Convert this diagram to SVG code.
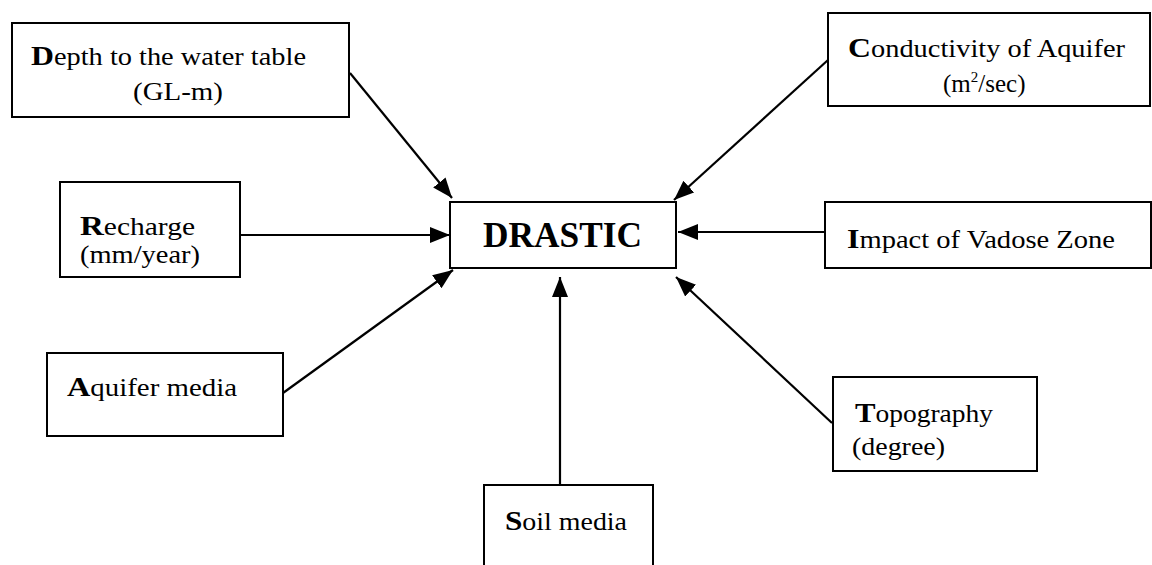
<svg xmlns="http://www.w3.org/2000/svg" width="1152" height="565" viewBox="0 0 1152 565">
<style>
.box{fill:#fff;stroke:#000;stroke-width:2}
.t{font-family:"Liberation Serif","Times New Roman",serif;font-size:25px;fill:#000}
.b{font-weight:bold;font-size:28px}
.big{font-family:"Liberation Serif","Times New Roman",serif;font-size:35px;font-weight:bold;fill:#000}
.con{stroke:#000;stroke-width:2.2;fill:none;marker-end:url(#ah)}
</style>
<defs>
<marker id="ah" markerUnits="userSpaceOnUse" markerWidth="22" markerHeight="18" refX="20" refY="8" orient="auto">
<path d="M0,0 L20,8 L0,16 z" fill="#000"/>
</marker>
</defs>
<rect width="1152" height="565" fill="#fff"/>
<g id="connectors">
<line class="con" x1="350" y1="73" x2="452" y2="198"/>
<line class="con" x1="240" y1="235" x2="450" y2="235"/>
<line class="con" x1="283" y1="393" x2="453" y2="270"/>
<line class="con" x1="560" y1="485" x2="560" y2="277"/>
<line class="con" x1="828" y1="60" x2="674" y2="200"/>
<line class="con" x1="825" y1="232" x2="678" y2="232"/>
<line class="con" x1="832" y1="423" x2="676" y2="277"/>
</g>
<g id="depth">
<rect class="box" x="12" y="23" width="337" height="94"/>
<text class="t" x="31" y="65" textLength="275" lengthAdjust="spacingAndGlyphs"><tspan class="b">D</tspan>epth to the water table</text>
<text class="t" x="133" y="100" textLength="90" lengthAdjust="spacingAndGlyphs">(GL-m)</text>
</g>
<g id="conductivity">
<rect class="box" x="828" y="13" width="322" height="93"/>
<text class="t" x="848" y="57" textLength="277" lengthAdjust="spacingAndGlyphs"><tspan class="b">C</tspan>onductivity of Aquifer</text>
<text class="t" x="943" y="92">(m<tspan font-size="15" dy="-10">2</tspan><tspan dy="10">/sec)</tspan></text>
</g>
<g id="recharge">
<rect class="box" x="60" y="182" width="180" height="95"/>
<text class="t" x="80" y="235" textLength="115" lengthAdjust="spacingAndGlyphs"><tspan class="b">R</tspan>echarge</text>
<text class="t" x="80" y="263" textLength="120" lengthAdjust="spacingAndGlyphs">(mm/year)</text>
</g>
<g id="drastic">
<rect class="box" x="450" y="202" width="226" height="66"/>
<text class="big" x="483" y="247" textLength="159" lengthAdjust="spacingAndGlyphs">DRASTIC</text>
</g>
<g id="impact">
<rect class="box" x="825" y="202" width="326" height="66"/>
<text class="t" x="847" y="248" textLength="268" lengthAdjust="spacingAndGlyphs"><tspan class="b">I</tspan>mpact of Vadose Zone</text>
</g>
<g id="aquifer">
<rect class="box" x="47" y="353" width="236" height="83"/>
<text class="t" x="67" y="396" textLength="170" lengthAdjust="spacingAndGlyphs"><tspan class="b">A</tspan>quifer media</text>
</g>
<g id="topography">
<rect class="box" x="833" y="377" width="204" height="94"/>
<text class="t" x="855" y="422" textLength="138" lengthAdjust="spacingAndGlyphs"><tspan class="b">T</tspan>opography</text>
<text class="t" x="852" y="455" textLength="93" lengthAdjust="spacingAndGlyphs">(degree)</text>
</g>
<g id="soil">
<rect class="box" x="484" y="485" width="169" height="90"/>
<text class="t" x="505" y="530" textLength="122" lengthAdjust="spacingAndGlyphs"><tspan class="b">S</tspan>oil media</text>
</g>
</svg>
